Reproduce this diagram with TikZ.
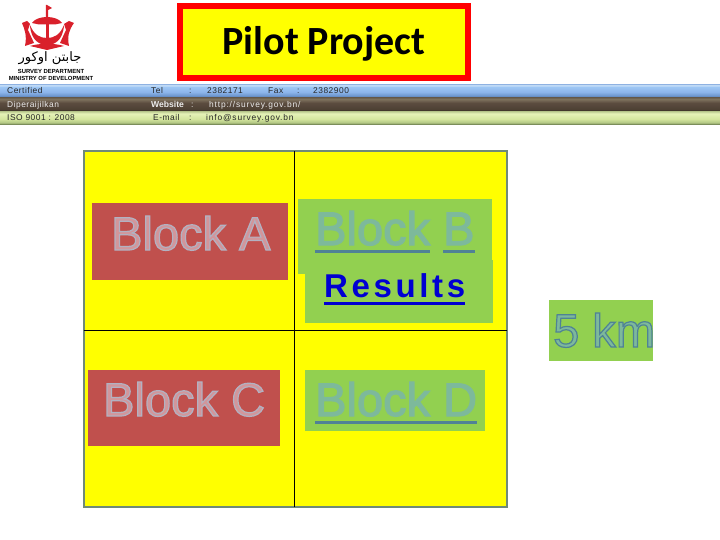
\documentclass[tikz,border=0pt]{standalone}
\usepackage{fontspec}
\setmainfont{Liberation Sans}
\newfontfamily\titlefont{Carlito}
\newfontfamily\arabicfont[Script=Arabic]{DejaVu Sans}
\TeXXeTstate=1
\usetikzlibrary{positioning, calc}

\definecolor{crestred}{HTML}{D9202B}
\definecolor{blockred}{HTML}{C0504D}
\definecolor{blockgreen}{HTML}{92D050}
\definecolor{mapedge}{HTML}{6F8A78}
\definecolor{pureyellow}{HTML}{FFFF00}
\definecolor{greenline}{RGB}{80,130,150}
\definecolor{resultblue}{RGB}{0,0,210}

\pgfdeclareverticalshading{barblueshade}{100bp}{rgb(0bp)=(0.28,0.38,0.55); rgb(25bp)=(0.28,0.38,0.55); rgb(30bp)=(0.42,0.58,0.80); rgb(45bp)=(0.55,0.71,0.92); rgb(65bp)=(0.62,0.78,0.96); rgb(71bp)=(0.80,0.89,0.98); rgb(75bp)=(0.60,0.73,0.90); rgb(100bp)=(0.60,0.73,0.90)}
\pgfdeclareverticalshading{barbrownshade}{100bp}{rgb(0bp)=(0.16,0.13,0.11); rgb(25bp)=(0.16,0.13,0.11); rgb(31bp)=(0.30,0.25,0.20); rgb(55bp)=(0.36,0.30,0.25); rgb(68bp)=(0.50,0.45,0.37); rgb(75bp)=(0.40,0.35,0.29); rgb(100bp)=(0.40,0.35,0.29)}
\pgfdeclareverticalshading{bargreenshade}{100bp}{rgb(0bp)=(0.45,0.52,0.33); rgb(25bp)=(0.45,0.52,0.33); rgb(31bp)=(0.70,0.78,0.52); rgb(45bp)=(0.83,0.90,0.62); rgb(66bp)=(0.90,0.95,0.72); rgb(75bp)=(0.72,0.78,0.55); rgb(100bp)=(0.72,0.78,0.55)}

% outlined lettering: fill colour comes from \color, the outline from the code below
\newcommand{\bevelred}[1]{{\color[RGB]{210,150,155}\special{pdf:code q 2 Tr 1.2 w 0.70 0.70 0.76 RG}#1\special{pdf:code Q}}}
\newcommand{\bevelgreen}[1]{{\color[RGB]{125,185,155}\special{pdf:code q 2 Tr 1.2 w 0.31 0.51 0.59 RG}#1\special{pdf:code Q}}}
\newcommand{\ultext}[2][resultblue]{\setbox0\hbox{#2}\rlap{\color{#1}\rule[-8pt]{\wd0}{3pt}}\box0\relax}

\begin{document}
\begin{tikzpicture}[
  x=1pt, y=-1pt,
  headbar/.style={shade, minimum width=720pt, minimum height=13pt, inner sep=0pt, anchor=north west},
  redblock/.style={fill=blockred, inner sep=0pt},
  greenblock/.style={fill=blockgreen, inner sep=0pt},
  bigtext/.style={font=\fontsize{47}{50}\selectfont, inner sep=0pt, anchor=base west},
  bartext/.style={font=\fontsize{8.4}{10}\selectfont\addfontfeature{LetterSpace=6}, inner sep=0pt, anchor=base west},
  widetext/.style={font=\fontsize{8.4}{10}\selectfont\addfontfeature{LetterSpace=10}},
  dark/.style={bartext, text=black!85},
  pale/.style={bartext, text=white!92!black},
  deptext/.style={font=\fontsize{5.9}{7}\selectfont\bfseries, inner sep=0pt, text=black}
]
\useasboundingbox (0,0) rectangle (720,540);
\fill[white] (0,0) rectangle (720,540);

% crest
\fill[crestred] (47,5) -- (52,8) -- (48.2,10) -- (48.2,18) -- (45.8,18) -- (45.8,5) -- cycle;
\fill[crestred] (32,23) .. controls (37,15) and (57,15) .. (62,23) -- (55,24.5) -- (39,24.5) -- cycle;
\fill[crestred] (45.5,22) rectangle (48.5,45);
\fill[crestred] (30,25) .. controls (31,41) and (40,45) .. (47,45)
  .. controls (54,45) and (63,41) .. (64,25)
  .. controls (60,35) and (54,38) .. (47,38)
  .. controls (40,38) and (34,35) .. (30,25) -- cycle;
\fill[crestred] (22,23) -- (27,21) -- (30,24) -- (28,30) -- (34,43) -- (25,46)
  .. controls (27,36) and (25,30) .. (22,23) -- cycle;
\fill[crestred] (74,23) -- (69,21) -- (64,24) -- (66,30) -- (60,43) -- (69,46)
  .. controls (67,36) and (69,30) .. (74,23) -- cycle;
\fill[crestred] (30,46) .. controls (40,43) and (54,43) .. (64,46) -- (47,50) -- cycle;

\node[font=\fontsize{13}{15}\selectfont\arabicfont, inner sep=0pt] (arabicname) at (50,58) {\beginR جابتن اوكور\endR};
\node[deptext] (surveydept) at (51,71) {SURVEY DEPARTMENT};
\node[deptext] (ministry) at (51,78) {MINISTRY OF DEVELOPMENT};

% title
\node[draw=red, line width=6pt, fill=pureyellow, minimum width=288pt, minimum height=72pt, inner sep=0pt,
      font=\fontsize{40}{44}\selectfont\titlefont\bfseries] (title) at (324,42) {\raisebox{-13pt}[0pt][0pt]{Pilot Project}};

% header bars
\node[headbar, shading=barblueshade] (barblue) at (0,84) {};
\node[headbar, minimum height=14pt, shading=barbrownshade] (barbrown) at (0,97) {};
\node[headbar, shading=bargreenshade] (bargreen) at (0,111) {};

\node[dark] (certified) at (7,94) {Certified};
\node[dark] (tel) at (151,94) {Tel};
\node[dark] (telcolon) at (189,94) {:};
\node[dark] (telno) at (207,94) {2382171};
\node[dark] (fax) at (268,94) {Fax};
\node[dark] (faxcolon) at (297,94) {:};
\node[dark] (faxno) at (313,94) {2382900};
\node[pale] (diper) at (7,108) {Diperaijilkan};
\node[pale, font=\fontsize{8.6}{10}\selectfont\bfseries] (website) at (151,108) {Website};
\node[pale] (webcolon) at (191,108) {:};
\node[pale, widetext] (webaddr) at (209,108) {http://survey.gov.bn/};
\node[dark] (iso) at (7,120.5) {ISO 9001 : 2008};
\node[dark] (email) at (153,120.5) {E-mail};
\node[dark] (mailcolon) at (189,120.5) {:};
\node[dark, widetext] (mailaddr) at (206,120.5) {info@survey.gov.bn};

% map sheet
\draw[mapedge, line width=2pt, fill=pureyellow] (83.5,151.5) rectangle (506.5,506.5);
\draw[black, line width=0.8pt] (294.5,151.5) -- (294.5,506.5);
\draw[black, line width=0.8pt] (83.5,330.5) -- (506.5,330.5);

% blocks
\node[redblock, minimum width=196pt, minimum height=77pt] (blocka) at (190,241.5) {};
\node[bigtext] (blockatext) at (111,250) {\bevelred{Block A}};
\node[redblock, minimum width=192pt, minimum height=76pt] (blockc) at (184,408) {};
\node[bigtext] (blockctext) at (103,416) {\bevelred{Block C}};
\node[greenblock, minimum width=194pt, minimum height=75pt] (blockb) at (395,236.5) {};
\node[greenblock, minimum width=188pt, minimum height=63pt] (results) at (399,291.5) {};
\node[bigtext] (blockbtext) at (315,245) {\bevelgreen{\ultext[greenline]{Block} \ultext[greenline]{B}}};
\node[bigtext, font=\fontsize{33}{36}\selectfont\bfseries\addfontfeature{LetterSpace=11}, text=resultblue] (resultstext) at (324,297) {\ultext{Results}};
\node[greenblock, minimum width=180pt, minimum height=61pt] (blockd) at (395,400.5) {};
\node[bigtext] (blockdtext) at (315,416) {\bevelgreen{\ultext[greenline]{Block D}}};
\node[greenblock, minimum width=104pt, minimum height=61pt] (scalekm) at (601,330.5) {};
\node[bigtext] (scalekmtext) at (553,347) {\bevelgreen{5 km}};
\end{tikzpicture}
\end{document}
